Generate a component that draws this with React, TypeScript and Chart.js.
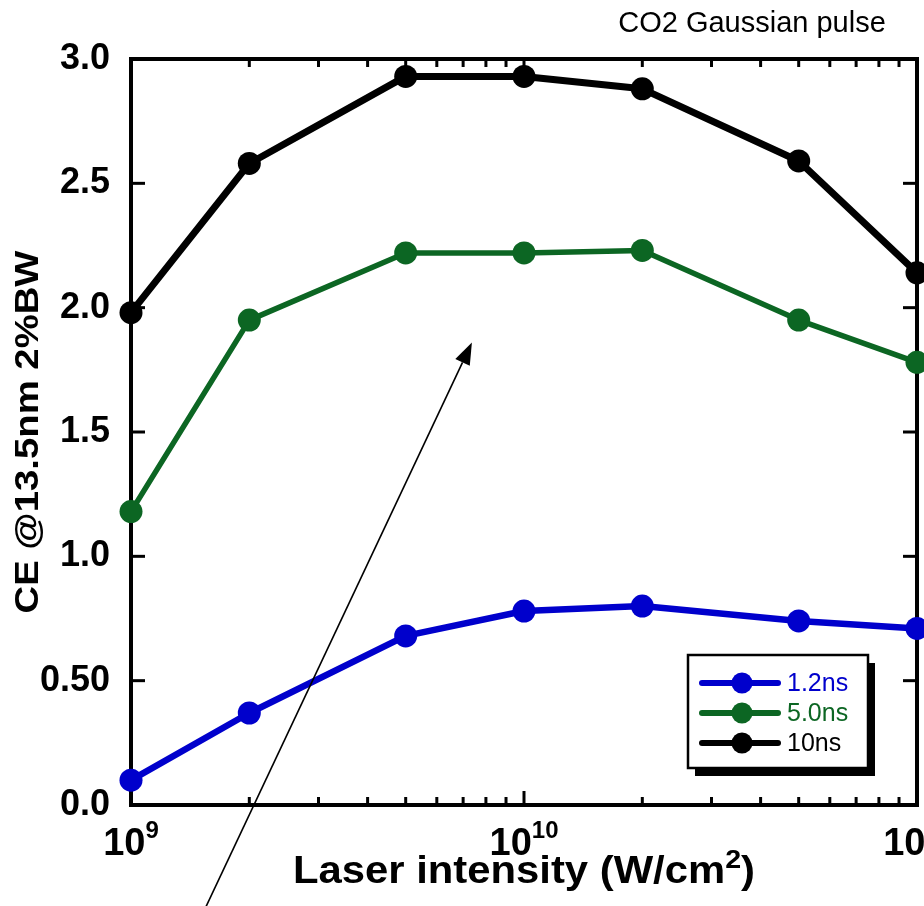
import React, { useEffect, useRef } from "react";
import { Chart, registerables } from "chart.js";

Chart.register(...registerables);

// ---- data ----
const intensities = [1e9, 2e9, 5e9, 1e10, 2e10, 5e10, 1e11];
const ce1_2ns = [0.1, 0.37, 0.68, 0.78, 0.8, 0.74, 0.71];
const ce5_0ns = [1.18, 1.95, 2.22, 2.22, 2.23, 1.95, 1.78];
const ce10ns = [1.98, 2.58, 2.93, 2.93, 2.88, 2.59, 2.14];
const seriesLabels = ["1.2ns", "5.0ns", "10ns"];
const seriesColors = ["#0000cc", "#0c6623", "#000000"];
const yTicks = [0, 0.5, 1, 1.5, 2, 2.5, 3];
const yTickLabels = ["0.0", "0.50", "1.0", "1.5", "2.0", "2.5", "3.0"];
const xMajorTicks = [1e9, 1e10, 1e11];
const xMajorBase = ["10", "10", "10"];
const xMajorExp = ["9", "10", "11"];
const xMinorTicks = [2e9, 3e9, 4e9, 5e9, 6e9, 7e9, 8e9, 9e9, 2e10, 3e10, 4e10, 5e10, 6e10, 7e10, 8e10, 9e10];
const arrowFrom = { x: 1.54e9, y: -0.42 };
const arrowTo = { x: 7.37e9, y: 1.86 };
const titleText = "CO2 Gaussian pulse";
const xTitleMain = "Laser intensity (W/cm";
const xTitleSup = "2";
const xTitleEnd = ")";
const yTitleText = "CE @13.5nm 2%BW";

const FONT = "'Liberation Sans', Arial, Helvetica, sans-serif";

function seg(ctx: CanvasRenderingContext2D, x1: number, y1: number, x2: number, y2: number) {
  ctx.beginPath();
  ctx.moveTo(x1, y1);
  ctx.lineTo(x2, y2);
  ctx.stroke();
}

const framePlugin = {
  id: "frameTicks",
  beforeDatasetsDraw(chart: any) {
    const { ctx, chartArea: a, scales } = chart;
    const xs = scales.x;
    const ys = scales.y;
    ctx.save();
    ctx.strokeStyle = "#000";
    ctx.lineWidth = 3;
    for (const v of yTicks) {
      const py = ys.getPixelForValue(v);
      seg(ctx, a.left, py, a.left + 14, py);
      seg(ctx, a.right, py, a.right - 14, py);
    }
    for (const v of xMajorTicks) {
      const px = xs.getPixelForValue(v);
      seg(ctx, px, a.bottom, px, a.bottom - 14);
      seg(ctx, px, a.top, px, a.top + 14);
    }
    for (const v of xMinorTicks) {
      const px = xs.getPixelForValue(v);
      seg(ctx, px, a.bottom, px, a.bottom - 8);
      seg(ctx, px, a.top, px, a.top + 8);
    }
    ctx.lineWidth = 4;
    ctx.strokeRect(a.left, a.top, a.right - a.left, a.bottom - a.top);
    ctx.restore();
  },
  afterDatasetsDraw(chart: any) {
    const { ctx, chartArea: a, scales } = chart;
    const xs = scales.x;
    const ys = scales.y;
    ctx.save();

    // arrow annotation
    const x1 = xs.getPixelForValue(arrowFrom.x);
    const y1 = ys.getPixelForValue(arrowFrom.y);
    const x2 = xs.getPixelForValue(arrowTo.x);
    const y2 = ys.getPixelForValue(arrowTo.y);
    const ang = Math.atan2(y2 - y1, x2 - x1);
    const headLen = 22;
    const headHalf = 8;
    const bx = x2 - headLen * Math.cos(ang);
    const by = y2 - headLen * Math.sin(ang);
    ctx.strokeStyle = "#000";
    ctx.lineWidth = 1.6;
    seg(ctx, x1, y1, bx, by);
    ctx.fillStyle = "#000";
    ctx.beginPath();
    ctx.moveTo(x2, y2);
    ctx.lineTo(bx + headHalf * Math.sin(ang), by - headHalf * Math.cos(ang));
    ctx.lineTo(bx - headHalf * Math.sin(ang), by + headHalf * Math.cos(ang));
    ctx.closePath();
    ctx.fill();

    // legend box
    const lw = 180;
    const lh = 113;
    const lx = a.right - 229;
    const ly = a.bottom - 150;
    ctx.fillStyle = "#000";
    ctx.fillRect(lx + 7, ly + 8, lw, lh);
    ctx.fillStyle = "#fff";
    ctx.fillRect(lx, ly, lw, lh);
    ctx.lineWidth = 2.5;
    ctx.strokeStyle = "#000";
    ctx.strokeRect(lx, ly, lw, lh);
    chart.data.datasets.forEach((ds: any, i: number) => {
      const ry = ly + 28 + i * 30;
      ctx.strokeStyle = ds.borderColor;
      ctx.lineWidth = 6;
      ctx.lineCap = "round";
      seg(ctx, lx + 14, ry, lx + 90, ry);
      ctx.fillStyle = ds.borderColor;
      ctx.beginPath();
      ctx.arc(lx + 54, ry, 10.5, 0, Math.PI * 2);
      ctx.fill();
      ctx.font = `25px ${FONT}`;
      ctx.textAlign = "left";
      ctx.textBaseline = "middle";
      ctx.fillText(ds.label, lx + 99, ry + 1);
    });
    ctx.lineCap = "butt";

    // x tick labels with superscripts
    ctx.fillStyle = "#000";
    ctx.textAlign = "left";
    ctx.textBaseline = "alphabetic";
    xMajorTicks.forEach((v, i) => {
      const px = xs.getPixelForValue(v);
      ctx.font = `bold 38px ${FONT}`;
      const w1 = ctx.measureText(xMajorBase[i]).width;
      ctx.font = `bold 24px ${FONT}`;
      const w2 = ctx.measureText(xMajorExp[i]).width;
      const start = px - (w1 + w2) / 2;
      ctx.font = `bold 38px ${FONT}`;
      ctx.fillText(xMajorBase[i], start, a.bottom + 50);
      ctx.font = `bold 24px ${FONT}`;
      ctx.fillText(xMajorExp[i], start + w1, a.bottom + 33);
    });

    // x title
    ctx.font = `bold 38px ${FONT}`;
    const m1 = ctx.measureText(xTitleMain).width;
    const m3 = ctx.measureText(xTitleEnd).width;
    ctx.font = `bold 26px ${FONT}`;
    const m2 = ctx.measureText(xTitleSup).width;
    const total = m1 + m2 + m3;
    const targetW = 462;
    const sx = targetW / total;
    const cx = (a.left + a.right) / 2 + 0;
    ctx.save();
    ctx.translate(cx - targetW / 2, a.bottom + 78);
    ctx.scale(sx, 1);
    ctx.font = `bold 38px ${FONT}`;
    ctx.fillText(xTitleMain, 0, 0);
    ctx.font = `bold 26px ${FONT}`;
    ctx.fillText(xTitleSup, m1, -15);
    ctx.font = `bold 38px ${FONT}`;
    ctx.fillText(xTitleEnd, m1 + m2, 0);
    ctx.restore();

    // y title (rotated)
    ctx.save();
    ctx.font = `bold 33px ${FONT}`;
    const yw = ctx.measureText(yTitleText).width;
    const ysx = 363 / yw;
    ctx.translate(38, (a.top + a.bottom) / 2);
    ctx.rotate(-Math.PI / 2);
    ctx.scale(ysx, 1);
    ctx.textAlign = "center";
    ctx.fillText(yTitleText, 0, 0);
    ctx.restore();

    // chart title
    ctx.font = `29px ${FONT}`;
    ctx.textAlign = "center";
    ctx.fillStyle = "#000";
    ctx.fillText(titleText, 752, 32);

    ctx.restore();
  },
};

export default function App() {
  const canvasRef = useRef<HTMLCanvasElement | null>(null);

  useEffect(() => {
    if (!canvasRef.current) return;
    const seriesData = [ce1_2ns, ce5_0ns, ce10ns];
    const chart = new Chart(canvasRef.current, {
      type: "line",
      data: {
        datasets: seriesData.map((vals, i) => ({
          label: seriesLabels[i],
          data: intensities.map((x, j) => ({ x, y: vals[j] })),
          borderColor: seriesColors[i],
          backgroundColor: seriesColors[i],
          pointBackgroundColor: seriesColors[i],
          pointBorderWidth: 0,
          pointRadius: 11.5,
          borderWidth: i === 0 ? 6.5 : i === 1 ? 5.5 : 7,
          tension: 0,
          clip: false as any,
          borderJoinStyle: "round" as const,
        })),
      },
      options: {
        responsive: false,
        animation: false,
        devicePixelRatio: 1,
        layout: { padding: { top: 59, right: 63, bottom: 0, left: 0 } },
        plugins: {
          legend: { display: false },
          tooltip: { enabled: false },
          title: { display: false },
        },
        scales: {
          x: {
            type: "logarithmic",
            min: 1e9,
            max: 1e11,
            grid: { display: false, drawTicks: false },
            border: { display: false },
            ticks: { display: false },
            afterBuildTicks: (scale: any) => {
              scale.ticks = xMajorTicks.map((v) => ({ value: v }));
            },
            afterFit: (scale: any) => {
              scale.height = 101;
            },
          },
          y: {
            type: "linear",
            min: 0,
            max: 3,
            grid: { display: false, drawTicks: false },
            border: { display: false },
            afterBuildTicks: (scale: any) => {
              scale.ticks = yTicks.map((v) => ({ value: v }));
            },
            ticks: {
              padding: 21,
              color: "#000",
              font: { family: FONT, size: 36, weight: "bold" },
              callback: (v: any) => {
                const idx = yTicks.findIndex((t) => Math.abs(t - Number(v)) < 1e-9);
                return idx >= 0 ? yTickLabels[idx] : "";
              },
            },
            afterFit: (scale: any) => {
              scale.width = 131;
            },
          },
        },
      },
      plugins: [framePlugin],
    });
    return () => chart.destroy();
  }, []);

  return (
    <div
      style={{
        position: "fixed",
        left: 0,
        top: 0,
        width: 924,
        height: 906,
        overflow: "hidden",
        background: "#fff",
      }}
    >
      <canvas ref={canvasRef} width={980} height={906} style={{ width: 980, height: 906, display: "block" }} />
    </div>
  );
}
